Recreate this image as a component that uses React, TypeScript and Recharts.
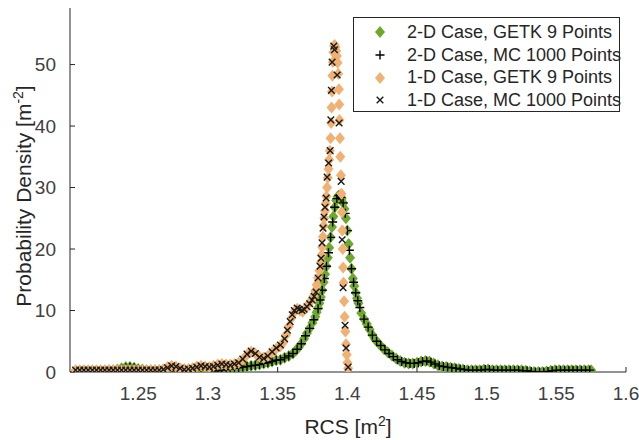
import React from 'react';
import { ScatterChart, Scatter, XAxis, YAxis, Legend } from 'recharts';

// --- data ---
const xTicks = [1.25, 1.3, 1.35, 1.4, 1.45, 1.5, 1.55, 1.6];
const yTicks = [0, 10, 20, 30, 40, 50];

// 2-D case, GETK 9 points
const getk2dX = [
  1.205, 1.208, 1.211, 1.214, 1.217, 1.22, 1.223, 1.226, 1.229, 1.232,
  1.235, 1.238, 1.241, 1.244, 1.247, 1.25, 1.253, 1.256, 1.259, 1.262,
  1.265, 1.268, 1.271, 1.274, 1.277, 1.28, 1.283, 1.286, 1.289, 1.292,
  1.295, 1.298, 1.301, 1.304, 1.307, 1.31, 1.313, 1.316, 1.319, 1.322,
  1.325, 1.328,
  1.331, 1.334, 1.337, 1.34, 1.343, 1.346, 1.349, 1.352, 1.355, 1.358, 1.361,
  1.363, 1.365, 1.367, 1.369, 1.371, 1.373, 1.375, 1.377,
  1.378, 1.379, 1.38, 1.381, 1.382, 1.383, 1.384, 1.385, 1.386, 1.387,
  1.388, 1.389, 1.39, 1.391, 1.392, 1.393, 1.394, 1.395, 1.396, 1.397,
  1.398, 1.399, 1.4, 1.401, 1.402, 1.403, 1.404, 1.405, 1.406, 1.407, 1.408,
  1.41, 1.412, 1.414, 1.416, 1.418, 1.42,
  1.423, 1.426, 1.429, 1.432, 1.435, 1.438, 1.441, 1.444, 1.447, 1.45,
  1.453, 1.456, 1.459, 1.462, 1.465, 1.468, 1.471, 1.474, 1.477, 1.48,
  1.483, 1.486, 1.489,
  1.492, 1.495, 1.498, 1.501, 1.504, 1.507, 1.51, 1.513, 1.516, 1.519,
  1.522, 1.525, 1.528, 1.531, 1.534, 1.537, 1.54, 1.543, 1.546, 1.549,
  1.552, 1.555, 1.558, 1.561, 1.564, 1.567, 1.57, 1.573, 1.575,
];
const getk2dY = [
  0.2, 0.2, 0.2, 0.2, 0.2, 0.2, 0.2, 0.2, 0.3, 0.3,
  0.4, 0.6, 0.8, 0.8, 0.7, 0.5, 0.4, 0.3, 0.3, 0.3,
  0.3, 0.4, 0.5, 0.4, 0.2, 0.1, 0.1, 0.2, 0.3, 0.4,
  0.5, 0.4, 0.3, 0.2, 0.2, 0.3, 0.4, 0.5, 0.6, 0.7,
  0.8, 0.9,
  1.0, 1.1, 1.2, 1.4, 1.5, 1.7, 1.9, 2.0, 2.3, 2.6, 3.0,
  3.5, 4.0, 4.6, 5.4, 6.3, 7.1, 8.0, 9.0,
  9.7, 10.4, 11.2, 12.2, 13.3, 14.6, 15.9, 17.2, 18.6, 20.2,
  21.9, 23.6, 25.3, 26.8, 27.9, 28.5, 28.7, 28.6, 28.2, 27.5,
  26.5, 25.0, 23.0, 20.8, 18.6, 16.8, 15.2, 14.0, 12.9, 12.0, 11.2,
  9.6, 8.6, 7.8, 6.9, 6.0, 5.3,
  4.5, 3.8, 3.2, 2.7, 2.2, 1.8, 1.5, 1.4, 1.4, 1.5,
  1.7, 1.8, 1.7, 1.4, 1.1, 0.9, 0.8, 0.7, 0.6, 0.5,
  0.4, 0.3, 0.3,
  0.3, 0.3, 0.4, 0.4, 0.3, 0.3, 0.3, 0.3, 0.3, 0.3,
  0.3, 0.3, 0.2, 0.1, 0.0, 0.0, 0.0, 0.1, 0.2, 0.3,
  0.3, 0.3, 0.3, 0.3, 0.3, 0.3, 0.3, 0.3, 0.3,
];

// 2-D case, MC 1000 points
const mc2dX = [
  1.205, 1.208, 1.211, 1.214, 1.217, 1.22, 1.223, 1.226, 1.229, 1.232,
  1.235, 1.238, 1.241, 1.244, 1.247, 1.25, 1.253, 1.256, 1.259, 1.262,
  1.265, 1.268, 1.271, 1.274, 1.277, 1.28, 1.283, 1.286, 1.289, 1.292,
  1.295, 1.298, 1.301, 1.304, 1.307, 1.31, 1.313, 1.316, 1.319, 1.322,
  1.325, 1.328, 1.331, 1.334, 1.337, 1.34, 1.343, 1.346, 1.349, 1.352,
  1.355, 1.358, 1.361, 1.364, 1.367, 1.37, 1.373, 1.376,
  1.379, 1.3805, 1.382, 1.3835, 1.385, 1.3865, 1.388, 1.3895, 1.391, 1.3925,
  1.394, 1.3955, 1.397, 1.3985, 1.4, 1.4015, 1.403, 1.4045, 1.406, 1.4075, 1.409,
  1.412, 1.415, 1.418, 1.421, 1.424, 1.427, 1.43, 1.433, 1.436, 1.439,
  1.442, 1.445, 1.448, 1.451, 1.454, 1.457, 1.46, 1.463, 1.466, 1.469,
  1.472, 1.475, 1.478, 1.481, 1.484, 1.487, 1.49, 1.493, 1.496, 1.499,
  1.502, 1.505, 1.508, 1.511, 1.514, 1.517, 1.52, 1.523, 1.526, 1.529,
  1.532, 1.535, 1.538, 1.541, 1.544, 1.547, 1.55, 1.553, 1.556, 1.559,
  1.562, 1.565, 1.568, 1.571, 1.574,
];
const mc2dY = [
  0.2, 0.2, 0.2, 0.2, 0.2, 0.2, 0.2, 0.2, 0.3, 0.3,
  0.4, 0.5, 0.7, 0.8, 0.7, 0.5, 0.4, 0.3, 0.3, 0.3,
  0.3, 0.4, 0.5, 0.4, 0.2, 0.1, 0.1, 0.2, 0.3, 0.4,
  0.5, 0.4, 0.3, 0.2, 0.2, 0.3, 0.4, 0.5, 0.6, 0.7,
  0.8, 0.9, 1.0, 1.1, 1.2, 1.4, 1.5, 1.7, 1.9, 2.0,
  2.3, 2.6, 3.0, 3.7, 4.6, 5.9, 7.1, 8.5,
  10.3, 11.7, 13.3, 15.2, 17.2, 19.4, 21.9, 24.4, 26.8, 28.2,
  28.7, 28.4, 27.5, 25.8, 23.0, 19.8, 16.8, 14.6, 12.9, 11.6, 10.5,
  8.6, 7.3, 6.0, 5.0, 4.3, 3.6, 3.0, 2.5, 2.0, 1.7,
  1.5, 1.4, 1.4, 1.5, 1.7, 1.8, 1.6, 1.3, 1.0, 0.9,
  0.8, 0.7, 0.6, 0.5, 0.4, 0.3, 0.3, 0.3, 0.3, 0.4,
  0.4, 0.3, 0.3, 0.3, 0.3, 0.3, 0.3, 0.3, 0.2, 0.2,
  0.1, 0.0, 0.0, 0.0, 0.1, 0.2, 0.3, 0.3, 0.3, 0.3,
  0.3, 0.3, 0.3, 0.3, 0.3,
];

// 1-D case, GETK 9 points
const getk1dX = [
  1.205, 1.208, 1.211, 1.214, 1.217, 1.22, 1.223, 1.226, 1.229, 1.232,
  1.235, 1.238, 1.241, 1.244, 1.247, 1.25, 1.253, 1.256, 1.259, 1.262,
  1.265, 1.268, 1.271, 1.274, 1.277, 1.28, 1.283, 1.286, 1.289, 1.292,
  1.295, 1.298, 1.301, 1.304, 1.307, 1.31, 1.313, 1.316, 1.319, 1.322,
  1.325, 1.328, 1.331, 1.334, 1.337, 1.34, 1.343, 1.346, 1.349, 1.352,
  1.354, 1.356, 1.358, 1.36, 1.362, 1.364, 1.366, 1.368, 1.37, 1.372, 1.374, 1.376,
  1.377, 1.378, 1.379, 1.38, 1.381, 1.3815, 1.382, 1.3825, 1.383, 1.3835,
  1.384, 1.3845, 1.385, 1.3855, 1.386, 1.3865, 1.387, 1.3875, 1.388, 1.3884,
  1.3887, 1.389, 1.3893, 1.3896, 1.39, 1.3905, 1.391, 1.3915, 1.392, 1.3925,
  1.393, 1.3935, 1.394, 1.3942, 1.3944, 1.3947, 1.395, 1.3954, 1.3958, 1.3961,
  1.3964, 1.3967, 1.397, 1.3973, 1.3977, 1.3981, 1.3986, 1.3991, 1.3996, 1.4001, 1.4006,
];
const getk1dY = [
  0.3, 0.3, 0.3, 0.3, 0.3, 0.3, 0.3, 0.3, 0.3, 0.3,
  0.3, 0.3, 0.3, 0.3, 0.3, 0.3, 0.3, 0.3, 0.3, 0.3,
  0.3, 0.4, 0.8, 1.0, 0.9, 0.6, 0.5, 0.5, 0.6, 0.9,
  1.0, 0.9, 0.8, 1.0, 1.2, 1.3, 1.2, 1.2, 1.3, 1.5,
  2.0, 2.8, 3.3, 3.0, 2.5, 2.3, 2.6, 3.2, 3.8, 4.2,
  4.8, 6.0, 7.4, 8.8, 9.8, 10.3, 10.0, 9.8, 10.3, 11.0, 11.6, 12.4,
  13.2, 14.2, 15.3, 16.5, 17.8, 19.0, 20.3, 22.0, 23.8, 25.0,
  26.2, 27.4, 28.6, 30.0, 31.6, 33.0, 34.5, 36.0, 38.0, 40.5,
  43.0, 45.6, 48.2, 50.4, 52.0, 53.0, 53.2, 52.8, 52.2, 51.4,
  50.3, 48.5, 46.0, 43.5, 41.0, 38.0, 35.0, 32.0, 29.0, 26.0,
  23.0, 20.0, 17.0, 14.5, 11.5, 9.0, 6.6, 4.5, 2.8, 1.5, 0.6,
];

// 1-D case, MC 1000 points
const mc1dX = [
  1.205, 1.208, 1.211, 1.214, 1.217, 1.22, 1.223, 1.226, 1.229, 1.232,
  1.235, 1.238, 1.241, 1.244, 1.247, 1.25, 1.253, 1.256, 1.259, 1.262,
  1.265, 1.268, 1.271, 1.274, 1.277, 1.28, 1.283, 1.286, 1.289, 1.292,
  1.295, 1.298, 1.301, 1.304, 1.307, 1.31, 1.313, 1.316, 1.319, 1.322,
  1.325, 1.328, 1.331, 1.334, 1.337, 1.34, 1.343, 1.346, 1.349, 1.352,
  1.355, 1.357, 1.359, 1.3605, 1.362, 1.364, 1.3655, 1.3675, 1.369, 1.3711,
  1.373, 1.3747, 1.3762, 1.3776, 1.379, 1.3805, 1.3812, 1.3819, 1.3826, 1.3833,
  1.384, 1.3848, 1.3855, 1.3866, 1.3877, 1.3882, 1.3886, 1.3891, 1.3903, 1.3908,
  1.3927, 1.3941, 1.3956, 1.3963, 1.397, 1.3984, 1.3991, 1.4006,
];
const mc1dY = [
  0.3, 0.3, 0.3, 0.3, 0.3, 0.3, 0.3, 0.3, 0.3, 0.3,
  0.3, 0.3, 0.3, 0.3, 0.3, 0.3, 0.3, 0.3, 0.3, 0.3,
  0.3, 0.4, 0.7, 1.0, 0.9, 0.6, 0.4, 0.5, 0.6, 0.8,
  1.0, 0.9, 0.8, 0.9, 1.1, 1.3, 1.2, 1.1, 1.3, 1.5,
  2.1, 2.9, 3.4, 3.0, 2.4, 2.2, 2.6, 3.3, 3.9, 4.4,
  5.4, 6.8, 8.2, 9.3, 10.0, 10.4, 10.2, 10.0, 10.2, 10.6,
  11.1, 11.7, 12.3, 13.0, 15.3, 17.2, 18.5, 21.0, 23.4, 25.2,
  26.8, 28.3, 31.7, 34.0, 36.0, 41.0, 45.8, 50.4, 53.0, 52.4,
  48.3, 40.5, 31.0, 21.5, 13.7, 7.6, 3.9, 0.8,
];

const toPoints = (xs: number[], ys: number[]) => xs.map((x, i) => ({ x, y: ys[i] }));

const GREEN = '#6fa82e';
const ORANGE = '#f0b173';
const INK = '#262626';
const FONT = '"Liberation Sans", Arial, Helvetica, sans-serif';

const diamond = (color: string) => (props: any) => {
  const { cx, cy } = props;
  if (cx == null || cy == null) return null;
  return <path d={`M${cx},${cy - 6}L${cx + 5},${cy}L${cx},${cy + 6}L${cx - 5},${cy}Z`} fill={color} />;
};

const plus = (props: any) => {
  const { cx, cy } = props;
  if (cx == null || cy == null) return null;
  return <path d={`M${cx - 4.5},${cy}H${cx + 4.5}M${cx},${cy - 4.5}V${cy + 4.5}`} stroke="#000" strokeWidth={1.4} fill="none" />;
};

const cross = (props: any) => {
  const { cx, cy } = props;
  if (cx == null || cy == null) return null;
  return <path d={`M${cx - 3.3},${cy - 3.3}L${cx + 3.3},${cy + 3.3}M${cx - 3.3},${cy + 3.3}L${cx + 3.3},${cy - 3.3}`} stroke="#1a1a1a" strokeWidth={1.4} fill="none" />;
};

const legendItems = [
  { label: '2-D Case, GETK 9 Points', shape: diamond(GREEN) },
  { label: '2-D Case, MC 1000 Points', shape: plus },
  { label: '1-D Case, GETK 9 Points', shape: diamond(ORANGE) },
  { label: '1-D Case, MC 1000 Points', shape: cross },
];

const LegendBox = () => (
  <div
    style={{
      border: `1px solid ${INK}`, background: '#fff', boxSizing: 'border-box',
      width: 267, height: 95, paddingTop: 3, fontFamily: FONT, fontSize: 18, color: INK,
    }}
  >
    {legendItems.map((item) => (
      <div key={item.label} style={{ height: 22.7, display: 'flex', alignItems: 'center' }}>
        <svg width={53} height={22} style={{ flex: 'none' }}>
          {item.shape({ cx: 26, cy: 11 })}
        </svg>
        <span style={{ whiteSpace: 'nowrap' }}>{item.label}</span>
      </div>
    ))}
  </div>
);

const XTitle = () => (
  <text x={348} y={434} textAnchor="middle" fontFamily={FONT} fontSize={21} fill={INK}>
    RCS [m<tspan dy={-8} fontSize={14}>2</tspan><tspan dy={8}>]</tspan>
  </text>
);

const YTitle = () => (
  <text x={0} y={0} transform="translate(31,196) rotate(-90)" textAnchor="middle" fontFamily={FONT} fontSize={21} fill={INK}>
    Probability Density [m<tspan dy={-8} fontSize={14}>-2</tspan><tspan dy={8}>]</tspan>
  </text>
);

const tickStyle = { fill: '#404040', fontSize: 19, fontFamily: FONT };

export default function App() {
  return (
    <div style={{ position: 'absolute', left: 0, top: 0, width: 639, height: 440, background: '#fff' }}>
      <ScatterChart width={639} height={440} margin={{ top: 8, right: 13, bottom: 0, left: 0 }}>
        <XAxis
          type="number"
          dataKey="x"
          domain={[1.201, 1.6]}
          ticks={xTicks}
          interval={0}
          allowDataOverflow
          height={68}
          tick={tickStyle}
          tickSize={-5}
          tickMargin={20}
          axisLine={{ stroke: INK }}
          tickLine={{ stroke: INK }}
          label={<XTitle />}
        />
        <YAxis
          type="number"
          dataKey="y"
          domain={[0, 59.2]}
          ticks={yTicks}
          interval={0}
          allowDataOverflow
          width={70}
          tick={tickStyle}
          tickSize={-5}
          tickMargin={19}
          axisLine={{ stroke: INK }}
          tickLine={{ stroke: INK }}
          label={<YTitle />}
        />
        <Legend
          layout="vertical"
          align="center"
          verticalAlign="middle"
          content={<LegendBox />}
          wrapperStyle={{ left: 353, top: 17, width: 267, height: 95 }}
        />
        <Scatter name="2-D Case, GETK 9 Points" data={toPoints(getk2dX, getk2dY)} shape={diamond(GREEN)} isAnimationActive={false} />
        <Scatter name="2-D Case, MC 1000 Points" data={toPoints(mc2dX, mc2dY)} shape={plus} isAnimationActive={false} />
        <Scatter name="1-D Case, GETK 9 Points" data={toPoints(getk1dX, getk1dY)} shape={diamond(ORANGE)} isAnimationActive={false} />
        <Scatter name="1-D Case, MC 1000 Points" data={toPoints(mc1dX, mc1dY)} shape={cross} isAnimationActive={false} />
      </ScatterChart>
    </div>
  );
}
